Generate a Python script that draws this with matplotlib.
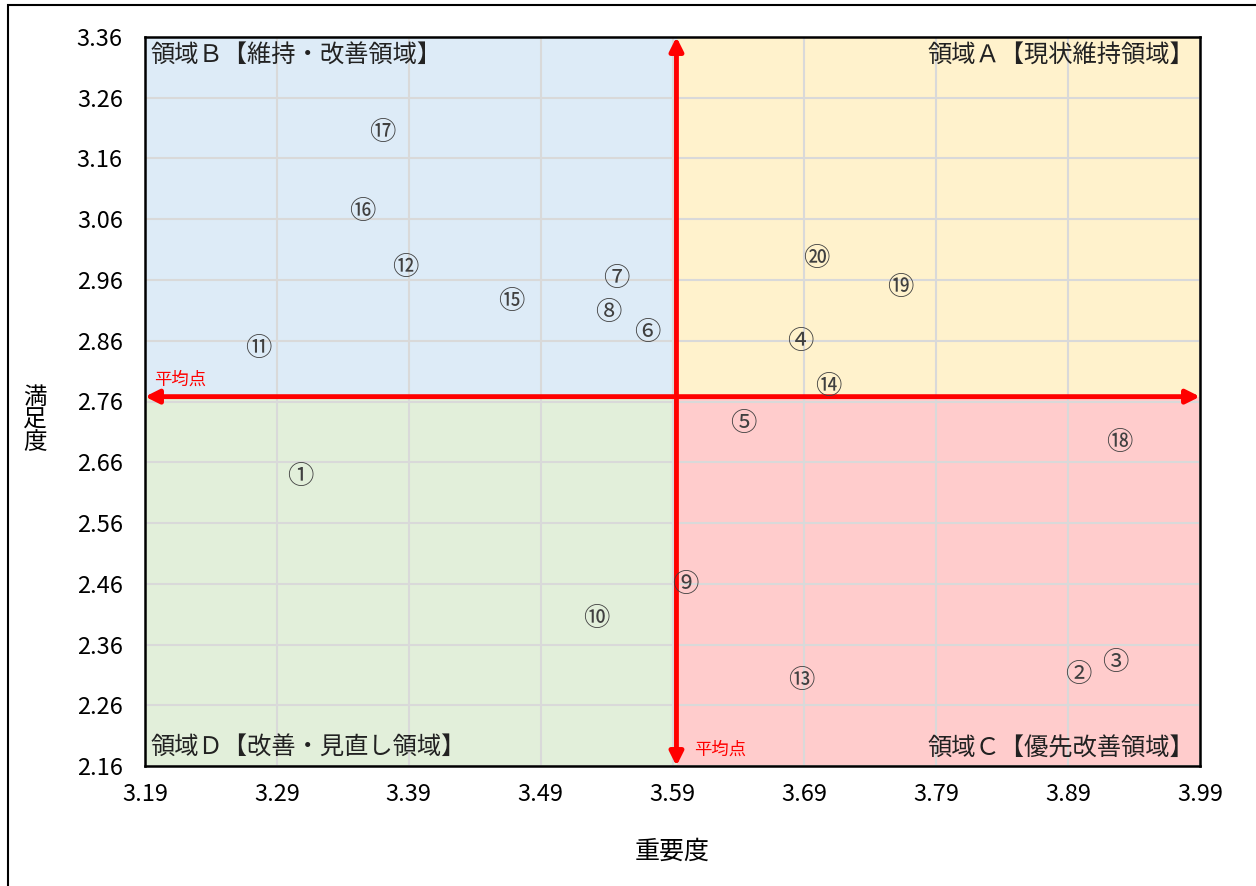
import matplotlib.pyplot as plt
from matplotlib.patches import Rectangle

plt.rcParams['font.family'] = ['Noto Sans CJK JP', 'DejaVu Sans']

# 項目番号（丸数字）
labels = ['①', '②', '③', '④', '⑤', '⑥', '⑦', '⑧', '⑨', '⑩',
          '⑪', '⑫', '⑬', '⑭', '⑮', '⑯', '⑰', '⑱', '⑲', '⑳']
# 重要度
importance = [3.308, 3.898, 3.926, 3.687, 3.644, 3.571, 3.547, 3.541, 3.600, 3.532,
              3.276, 3.387, 3.688, 3.708, 3.468, 3.355, 3.370, 3.929, 3.763, 3.699]
# 満足度
satisfaction = [2.641, 2.316, 2.335, 2.863, 2.728, 2.879, 2.967, 2.912, 2.463, 2.407,
                2.853, 2.986, 2.305, 2.790, 2.929, 3.077, 3.207, 2.698, 2.953, 3.000]

# 平均点
mean_x = 3.593
mean_y = 2.768

x_ticks = [3.19, 3.29, 3.39, 3.49, 3.59, 3.69, 3.79, 3.89, 3.99]
y_ticks = [2.16, 2.26, 2.36, 2.46, 2.56, 2.66, 2.76, 2.86, 2.96, 3.06, 3.16, 3.26, 3.36]

area_names = ['領域Ａ【現状維持領域】', '領域Ｂ【維持・改善領域】',
              '領域Ｃ【優先改善領域】', '領域Ｄ【改善・見直し領域】']
area_colors = ['#FFF2CC', '#DDEBF7', '#FFCCCC', '#E2EFDA']

fig = plt.figure(figsize=(12.56, 8.86), dpi=100)
ax = fig.add_axes([145 / 1256, 120 / 886, 1055 / 1256, 729 / 886])

xmin, xmax = x_ticks[0], x_ticks[-1]
ymin, ymax = y_ticks[0], y_ticks[-1]
ax.set_xlim(xmin, xmax)
ax.set_ylim(ymin, ymax)

# 4つの領域の背景
ax.add_patch(Rectangle((mean_x, mean_y), xmax - mean_x, ymax - mean_y, color=area_colors[0], zorder=0))
ax.add_patch(Rectangle((xmin, mean_y), mean_x - xmin, ymax - mean_y, color=area_colors[1], zorder=0))
ax.add_patch(Rectangle((mean_x, ymin), xmax - mean_x, mean_y - ymin, color=area_colors[2], zorder=0))
ax.add_patch(Rectangle((xmin, ymin), mean_x - xmin, mean_y - ymin, color=area_colors[3], zorder=0))

ax.set_xticks(x_ticks)
ax.set_yticks(y_ticks)
ax.set_xticklabels([f'{v:.2f}' for v in x_ticks], fontsize=17)
ax.set_yticklabels([f'{v:.2f}' for v in y_ticks], fontsize=17)
ax.tick_params(axis='x', length=0, pad=12)
ax.tick_params(axis='y', length=0, pad=16)
ax.grid(True, color='#D9D9D9', lw=1.5, zorder=1)
ax.set_axisbelow(True)
for s in ax.spines.values():
    s.set_linewidth(1.8)
    s.set_color('black')
    s.set_zorder(5)

# 平均点の矢印
arrow = dict(arrowstyle='<|-|>', color='red', lw=3.5, mutation_scale=20, shrinkA=0, shrinkB=0)
ax.annotate('', xy=(xmin, mean_y), xytext=(xmax, mean_y), arrowprops=arrow, zorder=4)
ax.annotate('', xy=(mean_x, ymin), xytext=(mean_x, ymax), arrowprops=arrow, zorder=4)
ax.text(xmin + 0.007, mean_y + 0.02, '平均点', color='red', fontsize=12.5)
ax.text(mean_x + 0.013, ymin + 0.018, '平均点', color='red', fontsize=12.5)

# 領域名
ax.text(xmax - 0.004, ymax - 0.01, area_names[0], ha='right', va='top', fontsize=17.5, color='#222222')
ax.text(xmin + 0.004, ymax - 0.01, area_names[1], ha='left', va='top', fontsize=17.5, color='#222222')
ax.text(xmax - 0.004, ymin + 0.008, area_names[2], ha='right', va='bottom', fontsize=17.5, color='#222222')
ax.text(xmin + 0.004, ymin + 0.008, area_names[3], ha='left', va='bottom', fontsize=17.5, color='#222222')

# 各項目
for lab, x, y in zip(labels, importance, satisfaction):
    ax.text(x, y, lab, ha='center', va='center_baseline', fontsize=19, color='#404040', zorder=6)

ax.set_xlabel('重要度', fontsize=18, labelpad=24)
fig.text(35 / 1256, 1 - 420 / 886, '満\n足\n度', fontsize=17, ha='center', va='center', linespacing=0.95)

# 外枠
fig.patches.append(Rectangle((8 / 1256, -0.1), 1.2, (881 / 886) + 0.1, transform=fig.transFigure,
                             fill=False, edgecolor='black', lw=1.5))

fig.savefig('out.png', dpi=100)
